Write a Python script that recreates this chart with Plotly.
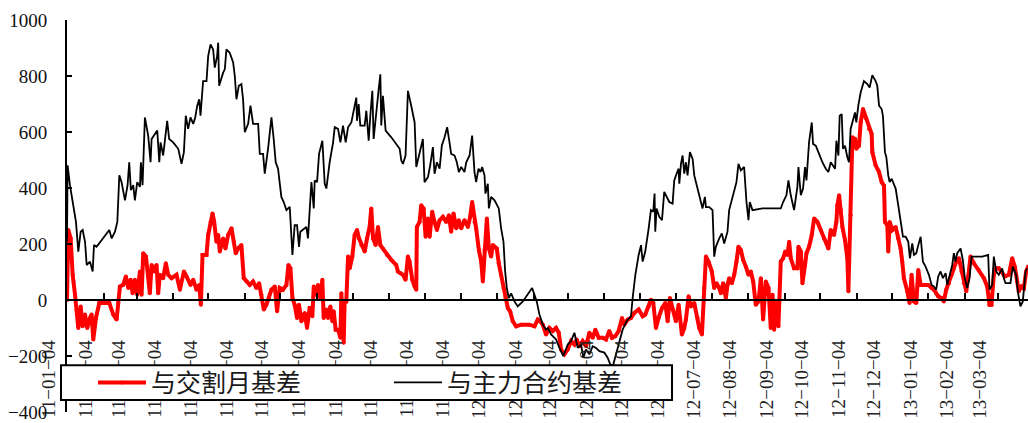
import pandas as pd
import plotly.graph_objects as go

START = pd.Timestamp("2011-01-04")

# ---- data: day offsets from 2011-01-04 and basis values ----
red_days = [0, 1.1, 3.1, 4.8, 6.8, 8.2, 9.6, 11.6, 13.3, 15.3, 17.2, 19.5, 20.9, 22.3, 24.6, 27.4, 32.2, 35.9,
            39.3, 42.1, 43.5, 44.9, 47.7, 50.0, 52.0, 54.0, 55.7, 57.6, 59.6, 61.9, 63.3, 64.7, 67.0, 68.9,
            70.3, 71.8, 73.7, 76.0, 77.4, 78.8, 81.6, 83.9, 85.9, 88.7, 92.9, 95.8, 99.2, 101.4, 104.8, 107.1,
            109.9, 112.2, 113.6, 115.0, 118.4, 119.8, 121.8, 123.5, 124.9, 126.8, 128.3, 129.7, 132.5, 134.5,
            136.7, 139.6, 141.5, 143.2, 145.2, 148.0, 150.0, 152.3, 155.1, 157.9, 160.7, 163.0, 165.0, 167.0,
            169.2, 171.5, 173.5, 176.3, 178.3, 180.5, 183.3, 186.2, 187.9, 189.6, 191.3, 193.2, 195.2, 196.9,
            198.9, 201.7, 203.7, 205.9, 206.5, 208.2, 209.4, 211.1, 213.0, 215.0, 216.7, 217.8, 220.1, 221.5,
            223.5, 225.2, 226.3, 228.0, 230.0, 232.0, 232.8, 234.8, 235.6, 237.0, 238.5, 239.9, 242.1, 244.1,
            246.1, 247.8, 249.8, 252.6, 254.6, 256.8, 258.2, 259.7, 261.9, 263.9, 265.9, 268.1, 271.5, 275.2,
            279.4, 280.8, 282.8, 285.1, 287.3, 289.3, 290.7, 293.0, 295.0, 296.4, 296.9, 299.2, 300.6, 302.6,
            304.3, 306.3, 307.7, 309.9, 311.9, 313.9, 316.2, 319.0, 321.8, 324.1, 326.0, 328.0, 330.3, 332.5,
            334.5, 337.3, 340.2, 342.1, 343.8, 345.8, 347.2, 349.5, 351.5, 352.9, 354.3, 356.3, 358.0, 359.9,
            361.4, 364.7, 366.4, 368.4, 370.4, 372.1, 374.1, 376.0, 378.3, 381.1, 385.4, 392.4, 396.7, 399.5,
            401.5, 403.7, 406.5, 409.4, 412.2, 415.0, 417.3, 419.3, 422.1, 424.9, 427.7, 430.6, 432.5, 434.8,
            437.6, 440.4, 443.3, 446.1, 448.4, 451.2, 454.6, 457.4, 460.2, 462.5, 465.3, 468.1, 471.0, 472.9,
            475.8, 478.6, 481.4, 485.1, 488.5, 490.7, 493.6, 495.5, 497.5, 499.8, 502.0, 504.9, 507.7, 509.7,
            511.6, 513.9, 516.7, 519.0, 521.8, 523.8, 525.2, 527.5, 529.4, 532.3, 535.1, 536.5, 538.8, 540.7,
            542.2, 544.4, 547.2, 549.2, 551.2, 553.5, 554.9, 556.8, 559.1, 560.5, 561.9, 564.2, 566.2, 568.1,
            569.8, 571.8, 573.8, 576.1, 578.3, 580.3, 582.3, 584.5, 586.8, 588.8, 590.7, 593.0, 595.3, 597.2,
            598.7, 600.1, 602.0, 603.7, 605.7, 607.7, 609.4, 611.4, 612.8, 614.2, 617.0, 619.8, 620.7, 622.7,
            624.1, 626.3, 627.5, 629.7, 632.0, 634.0, 636.8, 639.6, 642.4, 646.1, 648.1, 650.9, 652.9, 653.7,
            655.2, 656.6, 658.0, 660.2, 662.2, 663.1, 665.0, 666.5, 668.7, 669.8, 672.1, 673.5, 675.5, 678.3,
            680.6, 682.8, 683.4, 686.2, 689.1, 691.3, 693.3, 694.1, 696.1, 696.9, 698.1, 700.4, 703.2, 705.4,
            707.4, 708.8, 710.2, 713.1, 715.0, 716.7, 718.7, 720.7, 722.4, 724.4, 728.0, 730.9, 733.7, 735.7,
            737.6, 739.3, 742.2, 744.1, 746.1, 748.4, 750.6, 752.6, 754.6, 756.9, 759.1, 761.1, 763.1, 764.8,
            766.7, 769.6, 773.8, 778.1, 780.9, 782.8, 784.5, 786.5, 788.5, 790.7, 793.0, 795.8, 799.2, 802.1,
            804.3, 806.3, 807.7, 810.0, 812.0, 813.9, 815.6]
red_vals = [0, 250, 220, 90, 19, -34, -100, -23, -94, -52, -100, -64, -52, -141, -64, -11, -11, -11,
            -52, -70, -11, 48, 54, 84, 43, 72, 24, 72, 19, 102, 19, 167, 155, 90,
            24, 125, 102, 125, 24, 90, 78, 131, 90, 78, 90, 37, 102, 84, 54, 72,
            37, 54, -17, 161, 161, 232, 279, 309, 279, 208, 232, 173, 220, 184,
            232, 256, 208, 167, 184, 196, 78, 66, 54, 66, 43, 60, 19, -34,
            -17, 7, 37, 48, -40, 43, 37, 54, 125, 113, 7, -17, -64, -17,
            -76, -46, -100, -29, -29, -58, 48, 19, 54, 7, 72, -64, -34, -64,
            -23, -76, -40, -106, -106, -135, 24, -153, -5, -5, 155, 113, 155, 232,
            250, 220, 196, 173, 220, 261, 327, 220, 196, 261, 196, 184, 161, 143,
            125, 102, 96, 90, 72, 155, 137, 72, 48, 37, 261, 279, 338, 327,
            226, 291, 226, 315, 279, 250, 285, 297, 279, 303, 244, 309, 256, 285,
            256, 285, 261, 297, 350, 279, 256, 179, 137, 66, 179, 291, 184, 155,
            196, 184, 131, 90, 43, 7, -29, -40, -76, -94, -88, -88, -94, -70,
            -76, -88, -123, -100, -111, -100, -117, -177, -194, -177, -147, -159, -141, -165,
            -147, -165, -117, -135, -106, -135, -135, -141, -111, -135, -129, -111, -64, -88,
            -70, -64, -46, -34, -58, -52, -23, 1, -11, -100, -64, -29, -11, -76,
            7, -34, -76, -17, -123, -100, -70, 13, -23, -11, -64, -100, -123, 43,
            155, 137, 102, 43, 60, 43, 24, 60, 7, 54, 78, 60, 90, 137,
            190, 179, 143, 119, 90, 102, 66, -17, -5, 78, -70, 66, 43, -100,
            19, -106, -5, -94, 137, 149, 173, 161, 208, 149, 113, 113, 190, 173,
            60, 125, 167, 190, 232, 291, 279, 250, 220, 184, 250, 232, 279, 338,
            374, 321, 261, 214, 149, 31, 303, 581, 575, 540, 551, 634, 682, 646,
            611, 593, 528, 481, 457, 421, 409, 279, 267, 173, 279, 250, 261, 220,
            184, 137, 78, 31, -11, 90, -5, -11, 107, 54, 54, 54, 43, 37,
            24, 13, 7, -5, 37, 60, 90, 113, 137, 149, 102, 60, 31, 84,
            155, 131, 107, 78, 48, -17, -17, 90, 113, 113, 102, 84, 90, 149,
            119, 66, 31, 48, 43, 102, 120]

black_days = [0, 0.5, 2.5, 5.4, 7.6, 9.6, 11.6, 13.3, 15.3, 16.7, 19.5, 21.8, 22.9, 25.1, 30.8, 35.9, 37.9,
              40.7, 42.7, 44.4, 46.3, 49.2, 51.4, 52.8, 54.2, 56.2, 57.6, 59.6, 61.9, 62.7, 64.1, 66.1,
              68.9, 70.9, 71.8, 74.6, 76.6, 78.3, 79.4, 81.6, 83.9, 85.0, 86.7, 90.1, 94.4, 97.2, 99.2,
              100.8, 102.8, 104.8, 107.1, 108.8, 110.5, 112.2, 113.3, 114.4, 115.5, 118.4, 119.8, 121.8,
              124.0, 125.4, 127.4, 128.3, 129.1, 132.5, 133.9, 135.3, 138.1, 141.0, 142.4, 143.8, 145.8,
              148.0, 149.4, 150.9, 153.7, 155.7, 157.9, 162.2, 163.6, 166.4, 167.8, 170.6, 173.5, 175.4,
              177.1, 179.1, 181.9, 183.9, 186.2, 189.0, 191.3, 193.2, 195.2, 196.9, 198.0, 203.1, 204.5,
              207.4, 209.4, 210.2, 212.2, 213.9, 216.7, 218.7, 220.1, 222.9, 225.8, 227.2, 230.0, 232.0,
              234.2, 236.5, 238.5, 241.3, 243.3, 245.5, 246.1, 247.5, 248.9, 252.6, 254.0, 256.0, 257.4,
              259.1, 260.2, 262.5, 264.5, 265.9, 266.7, 268.1, 270.4, 275.2, 279.4, 282.3, 283.7, 285.1,
              287.3, 289.3, 292.1, 295.0, 296.4, 299.2, 302.0, 303.4, 306.3, 308.2, 310.5, 311.9, 313.9,
              316.2, 318.1, 320.4, 322.6, 324.6, 326.0, 328.9, 330.8, 332.5, 334.5, 337.3, 338.8, 341.6,
              343.8, 345.8, 347.2, 349.2, 350.9, 352.3, 354.3, 355.1, 357.1, 358.0, 359.9, 362.8, 366.4,
              368.4, 370.4, 371.8, 373.2, 374.9, 376.9, 379.7, 382.5, 386.8, 391.0, 394.7, 396.7, 398.6,
              400.9, 403.7, 406.5, 408.0, 410.8, 415.0, 417.9, 421.2, 424.9, 427.7, 430.6, 433.4, 436.2,
              438.2, 440.4, 443.3, 446.1, 448.9, 451.8, 456.0, 458.8, 461.6, 463.6, 465.9, 468.7, 471.5,
              474.9, 478.6, 480.0, 482.3, 485.1, 487.1, 488.5, 490.7, 493.6, 495.5, 497.5, 498.6, 499.2,
              500.3, 502.6, 504.9, 506.8, 508.2, 511.1, 513.9, 515.3, 517.3, 519.0, 519.6, 521.0, 522.4,
              523.8, 525.2, 526.6, 528.6, 530.9, 532.3, 533.7, 535.9, 537.9, 539.3, 541.3, 542.2, 545.0,
              547.8, 549.2, 550.6, 553.5, 555.7, 557.7, 560.5, 561.9, 564.2, 566.2, 568.1, 569.8, 571.8,
              574.6, 576.6, 578.3, 579.4, 581.7, 590.2, 605.7, 607.7, 610.5, 612.2, 614.2, 617.0, 619.8,
              620.7, 622.7, 624.6, 626.3, 627.5, 629.7, 632.0, 633.1, 635.4, 638.2, 641.0, 643.9, 646.1,
              648.1, 650.1, 651.8, 652.9, 654.6, 655.7, 657.4, 658.5, 660.2, 662.2, 663.6, 665.0, 666.5,
              668.7, 669.8, 671.5, 673.5, 676.3, 679.2, 681.1, 683.4, 686.2, 687.6, 689.1, 691.3, 692.4,
              694.1, 695.3, 696.9, 698.1, 699.8, 701.8, 703.2, 705.4, 707.4, 709.4, 711.7, 713.9, 715.3,
              717.3, 718.7, 720.7, 722.4, 724.4, 726.3, 728.6, 731.4, 733.7, 735.7, 737.6, 739.3, 741.3,
              743.3, 745.6, 747.0, 748.9, 751.2, 752.6, 754.0, 755.4, 758.3, 760.2, 761.9, 763.9, 765.9,
              767.6, 776.6, 781.7, 782.8, 785.1, 786.5, 788.5, 790.7, 793.6, 795.0, 796.4, 800.6, 802.6,
              805.4, 807.1, 809.1, 811.1, 813.4, 814.8]
black_vals = [208, 481, 410, 327, 279, 173, 244, 250, 208, 125, 137, 102, 196, 190, 220, 250, 220,
              244, 279, 445, 421, 356, 410, 492, 392, 410, 356, 421, 404, 492, 410, 652,
              587, 492, 575, 593, 605, 492, 563, 516, 611, 640, 575, 563, 540, 486, 528,
              658, 611, 652, 629, 652, 694, 717, 658, 729, 782, 782, 871, 913,
              895, 830, 871, 919, 765, 812, 824, 895, 883, 848, 800, 717, 765,
              771, 717, 599, 629, 694, 629, 629, 522, 522, 451, 540, 652, 575,
              492, 469, 368, 350, 321, 333, 161, 267, 267, 190, 244, 261, 220,
              421, 327, 427, 421, 522, 569, 415, 398, 492, 563, 617, 611, 563,
              623, 563, 617, 634, 676, 723, 640, 700, 623, 623, 676, 569, 658,
              747, 575, 682, 753, 806, 623, 729, 605, 581, 557, 540, 498, 486,
              516, 747, 694, 634, 475, 528, 575, 421, 439, 481, 546, 451, 492,
              469, 552, 581, 617, 563, 522, 516, 492, 457, 475, 457, 492, 516,
              587, 457, 421, 469, 457, 475, 445, 380, 415, 327, 368, 356, 327,
              256, 208, 102, 43, 7, 24, -5, -23, -5, 19, 43, 19, -5,
              -52, -88, -106, -100, -123, -141, -171, -200, -159, -147, -117, -171, -159,
              -206, -177, -194, -165, -171, -183, -188, -206, -236, -230, -194, -147, -106,
              -76, -58, 7, 90, 161, 196, 137, 173, 256, 321, 315, 380, 244,
              327, 297, 285, 386, 374, 350, 344, 427, 451, 469, 415, 486, 516,
              451, 492, 445, 528, 504, 445, 421, 392, 350, 327, 368, 332, 332,
              321, 155, 190, 220, 238, 202, 244, 321, 362, 392, 421, 486, 463,
              475, 350, 285, 350, 321, 327, 327, 350, 374, 427, 374, 321, 404,
              475, 374, 398, 475, 427, 563, 634, 557, 551, 522, 492, 469, 457,
              492, 481, 469, 569, 516, 658, 664, 540, 551, 510, 492, 611, 640,
              670, 634, 694, 741, 782, 771, 759, 803, 782, 765, 694, 682, 658,
              528, 510, 445, 421, 433, 415, 398, 338, 285, 226, 226, 208, 149,
              202, 161, 167, 196, 226, 137, 119, 90, 54, 48, 37, 84, 102,
              78, 96, 54, 90, 125, 167, 137, 167, 184, 143, 78, 43, 78,
              155, 155, 161, 37, 54, 155, 102, 90, 113, 78, 60, 60, 119,
              90, 24, -23, -5, 102, 113]

tick_dates = ["2011-01-04", "2011-02-04", "2011-03-04", "2011-04-04", "2011-05-04", "2011-06-04",
              "2011-07-04", "2011-08-04", "2011-09-04", "2011-10-04", "2011-11-04", "2011-12-04",
              "2012-01-04", "2012-02-04", "2012-03-04", "2012-04-04", "2012-05-04", "2012-06-04",
              "2012-07-04", "2012-08-04", "2012-09-04", "2012-10-04", "2012-11-04", "2012-12-04",
              "2013-01-04", "2013-02-04", "2013-03-04"]
tick_labels = ["11−01−04", "11−02−04", "11−03−04", "11−04−04", "11−05−04", "11−06−04",
               "11−07−04", "11−08−04", "11−09−04", "11−10−04", "11−11−04", "11−12−04",
               "12−01−04", "12−02−04", "12−03−04", "12−04−04", "12−05−04", "12−06−04",
               "12−07−04", "12−08−04", "12−09−04", "12−10−04", "12−11−04", "12−12−04",
               "13−01−04", "13−02−04", "13−03−04"]

series_names = ["与交割月基差", "与主力合约基差"]

red_x = START + pd.to_timedelta(red_days, unit="D")
black_x = START + pd.to_timedelta(black_days, unit="D")

fig = go.Figure()
fig.add_trace(go.Scatter(x=red_x, y=red_vals, name=series_names[0], mode="lines+markers",
                         line=dict(color="#ff0000", width=4), marker=dict(size=4, color="#ff0000")))
fig.add_trace(go.Scatter(x=black_x, y=black_vals, name=series_names[1], mode="lines",
                         line=dict(color="#000000", width=1.8)))

W, H = 1028, 423
ml, mr, mt, mb = 67, 0, 20, 8
pw, ph = W - ml - mr, H - mt - mb
YMIN, YMAX = -400, 1000
zero_frac = (0 - YMIN) / (YMAX - YMIN)


def px_x(p):
    return (p - ml) / pw


def px_y(p):
    return (H - mb - p) / ph


fig.update_layout(
    width=W, height=H,
    margin=dict(l=ml, r=mr, t=mt, b=mb, pad=0),
    paper_bgcolor="white", plot_bgcolor="white",
    showlegend=True,
    legend=dict(orientation="h", x=px_x(93), y=px_y(385.5), xanchor="left", yanchor="middle",
                bgcolor="rgba(0,0,0,0)", borderwidth=0,
                font=dict(family="Noto Sans CJK SC", size=25, color="#1a1a1a"),
                itemwidth=48, entrywidth=233, entrywidthmode="pixels", tracegroupgap=0),
    xaxis=dict(type="date", range=[START, START + pd.Timedelta(days=815.5)],
               anchor="free", position=zero_frac,
               showline=True, linecolor="black", linewidth=1.5,
               ticks="inside", ticklen=6, tickwidth=1.5, tickcolor="black",
               tickvals=pd.to_datetime(tick_dates), ticktext=tick_labels, tickangle=-90,
               tickfont=dict(family="Liberation Serif", size=19, color="#222"),
               ticklabelstandoff=32, ticklabelshift=-18, ticklabeloverflow="allow",
               showgrid=False, zeroline=False),
    yaxis=dict(range=[YMIN, YMAX], tick0=0, dtick=200, showline=True, linecolor="black", linewidth=2,
               ticks="inside", ticklen=5, tickwidth=2, tickcolor="black",
               tickfont=dict(family="Liberation Serif", size=19, color="#111"),
               ticklabelstandoff=14, ticklabeloverflow="allow",
               showgrid=False, zeroline=False),
    shapes=[dict(type="rect", xref="paper", yref="paper", layer="above",
                 x0=px_x(61), x1=px_x(672), y0=px_y(403), y1=px_y(368),
                 fillcolor="white", line=dict(color="black", width=2))],
)

fig.write_html("out.html")
